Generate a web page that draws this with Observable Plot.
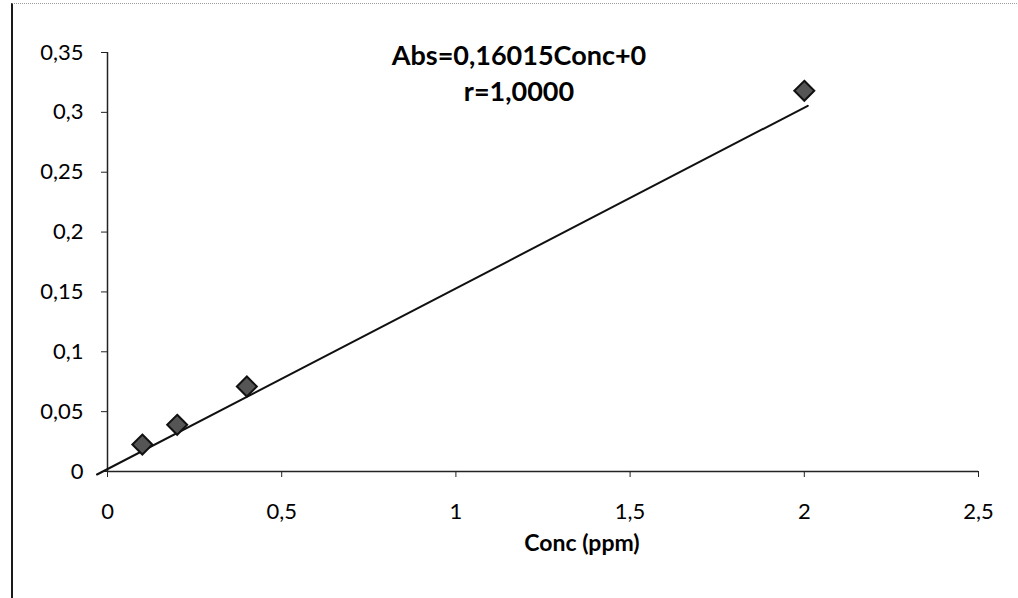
<!DOCTYPE html>
<html><head><meta charset="utf-8">
<script src="https://cdn.jsdelivr.net/npm/d3@7"></script>
<script src="https://cdn.jsdelivr.net/npm/@observablehq/plot@0.6"></script>
<style>
body{margin:0;background:#fff;}
#wrap{position:relative;width:1018px;height:598px;overflow:hidden;}
#frame{position:absolute;left:11px;top:3px;width:1010px;height:600px;border-left:2px solid #1a1a1a;border-top:1px dotted #9a9a9a;pointer-events:none;}
</style></head><body><div id="wrap"><div id="frame"></div></div>
<script>
const concValues = [0.1, 0.2, 0.4, 2.0];
const absValues = [0.0225, 0.039, 0.071, 0.318];
const fitConc = [-0.03, 2.01];
const fitAbs = [-0.0025, 0.3055];
const xTicks = [0, 0.5, 1, 1.5, 2, 2.5];
const yTicks = [0, 0.05, 0.1, 0.15, 0.2, 0.25, 0.3, 0.35];
const equationText = "Abs=0,16015Conc+0";
const rText = "r=1,0000";
const xLabel = "Conc (ppm)";

const points = concValues.map((c, i) => ({conc: c, abs: absValues[i]}));
const fit = fitConc.map((c, i) => ({conc: c, abs: fitAbs[i]}));
const fmt = d => String(d).replace(".", ",");

const chart = Plot.plot({
  width: 1018, height: 598,
  marginLeft: 107, marginRight: 40, marginTop: 52, marginBottom: 127,
  style: {fontFamily: "Lato", fontSize: "22px", color: "#000", background: "transparent"},
  x: {domain: [0, 2.5]},
  y: {domain: [0, 0.35]},
  marks: [
    Plot.ruleY([0], {stroke: "#222", strokeWidth: 1.5}),
    Plot.ruleX([0], {stroke: "#222", strokeWidth: 1.5}),
    Plot.axisX(xTicks, {tickSize: 6, tickPadding: 26, tickFormat: fmt, label: null, stroke: "#222", fill: "#000", fontSize: 22}),
    Plot.axisY(yTicks, {tickSize: 6, tickPadding: 18, tickFormat: fmt, label: null, stroke: "#222", fill: "#000", fontSize: 22}),
    Plot.line(fit, {x: "conc", y: "abs", stroke: "#111", strokeWidth: 2}),
    Plot.dot(points, {x: "conc", y: "abs", symbol: "diamond2", r: 9, fill: "#555", stroke: "#111", strokeWidth: 2}),
    Plot.text([equationText], {frameAnchor: "top", dx: -24, dy: -7, fontWeight: "bold", fontSize: 27, fill: "#000"}),
    Plot.text([rText], {frameAnchor: "top", dx: -24, dy: 29, fontWeight: "bold", fontSize: 27, fill: "#000"}),
    Plot.text([xLabel], {frameAnchor: "bottom", dx: 39, dy: 79, fontWeight: "bold", fontSize: 23, fill: "#000"})
  ]
});
document.getElementById("wrap").prepend(chart);
</script></body></html>
